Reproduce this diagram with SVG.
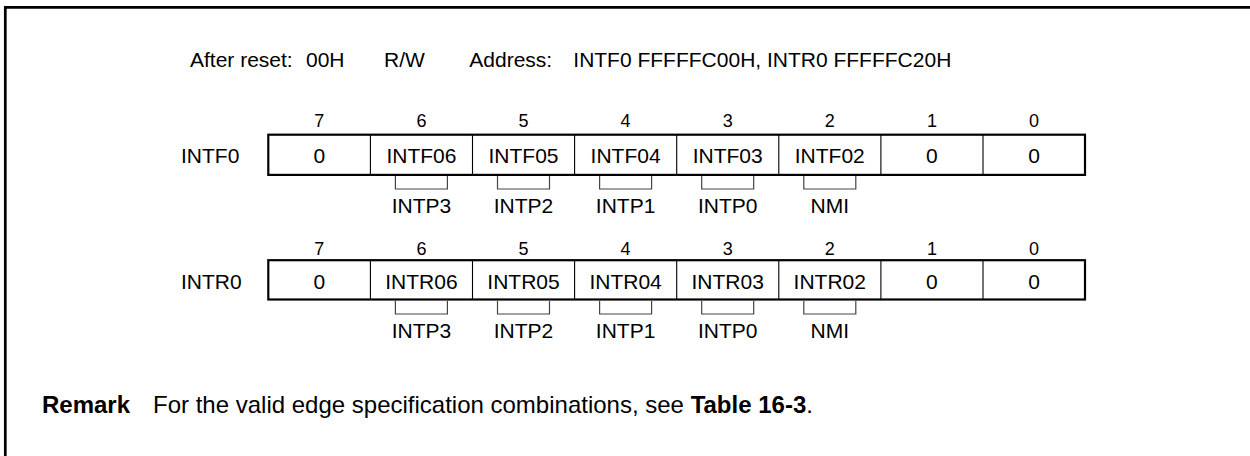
<svg xmlns="http://www.w3.org/2000/svg" width="1250" height="456" viewBox="0 0 1250 456">
<style>
text{font-family:"Liberation Sans",Arial,sans-serif;fill:#000}
.t{font-size:21px}
.r{font-size:24px}
.c{font-size:21px;text-anchor:middle}
.n{font-size:18px;text-anchor:middle}
.b{font-weight:bold}
.box{fill:none;stroke:#000;stroke-width:2.2}
.div{stroke:#000;stroke-width:1.1}
.br{fill:none;stroke:#444;stroke-width:1.2}
</style>
<rect x="0" y="0" width="1250" height="456" fill="#fff"/>
<path d="M5.3,456 V7.3 H1250" fill="none" stroke="#000" stroke-width="2.7"/>
<g id="header">
<text class="t" y="67"><tspan x="190">After reset:</tspan><tspan x="306">00H</tspan><tspan x="384">R/W</tspan><tspan x="469.3">Address:</tspan><tspan x="573.3">INTF0 FFFFFC00H, INTR0 FFFFFC20H</tspan></text>
</g>
<g id="reg-INTF0">
<text class="t" x="181" y="163.3">INTF0</text>
<text class="n" x="319.3" y="127">7</text><text class="n" x="421.4" y="127">6</text><text class="n" x="523.5" y="127">5</text><text class="n" x="625.6" y="127">4</text><text class="n" x="727.7" y="127">3</text><text class="n" x="829.8" y="127">2</text><text class="n" x="931.9" y="127">1</text><text class="n" x="1034" y="127">0</text>
<rect class="box" x="268.3" y="134.7" width="816.7" height="40.2"/>
<path class="div" d="M370.4,134.7V174.9M472.5,134.7V174.9M574.6,134.7V174.9M676.7,134.7V174.9M778.8,134.7V174.9M880.9,134.7V174.9M983,134.7V174.9"/>
<text class="c" x="319.3" y="163.3">0</text><text class="c" x="421.4" y="163.3">INTF06</text><text class="c" x="523.5" y="163.3">INTF05</text><text class="c" x="625.6" y="163.3">INTF04</text><text class="c" x="727.7" y="163.3">INTF03</text><text class="c" x="829.8" y="163.3">INTF02</text><text class="c" x="931.9" y="163.3">0</text><text class="c" x="1034" y="163.3">0</text>
</g>
<g id="reg-INTR0">
<text class="t" x="181" y="289.3">INTR0</text>
<text class="n" x="319.3" y="255">7</text><text class="n" x="421.4" y="255">6</text><text class="n" x="523.5" y="255">5</text><text class="n" x="625.6" y="255">4</text><text class="n" x="727.7" y="255">3</text><text class="n" x="829.8" y="255">2</text><text class="n" x="931.9" y="255">1</text><text class="n" x="1034" y="255">0</text>
<rect class="box" x="268.3" y="260.2" width="816.7" height="39.3"/>
<path class="div" d="M370.4,260.2V299.5M472.5,260.2V299.5M574.6,260.2V299.5M676.7,260.2V299.5M778.8,260.2V299.5M880.9,260.2V299.5M983,260.2V299.5"/>
<text class="c" x="319.3" y="289.3">0</text><text class="c" x="421.4" y="289.3">INTR06</text><text class="c" x="523.5" y="289.3">INTR05</text><text class="c" x="625.6" y="289.3">INTR04</text><text class="c" x="727.7" y="289.3">INTR03</text><text class="c" x="829.8" y="289.3">INTR02</text><text class="c" x="931.9" y="289.3">0</text><text class="c" x="1034" y="289.3">0</text>
</g>
<g id="connectors">
<path class="br" d="M395.4,176V189H447.4V176M497.5,176V189H549.5V176M599.6,176V189H651.6V176M701.7,176V189H753.7V176M803.8,176V189H855.8V176"/>
<path class="br" d="M395.4,301V314H447.4V301M497.5,301V314H549.5V301M599.6,301V314H651.6V301M701.7,301V314H753.7V301M803.8,301V314H855.8V301"/>
</g>
<g id="labels-INTF0">
<text class="c" x="421.4" y="213">INTP3</text><text class="c" x="523.5" y="213">INTP2</text><text class="c" x="625.6" y="213">INTP1</text><text class="c" x="727.7" y="213">INTP0</text><text class="c" x="829.8" y="213">NMI</text>
</g>
<g id="labels-INTR0">
<text class="c" x="421.4" y="338">INTP3</text><text class="c" x="523.5" y="338">INTP2</text><text class="c" x="625.6" y="338">INTP1</text><text class="c" x="727.7" y="338">INTP0</text><text class="c" x="829.8" y="338">NMI</text>
</g>
<g id="remark">
<text class="r" y="413"><tspan class="b" x="42">Remark</tspan><tspan x="153">For the valid edge specification combinations, see </tspan><tspan class="b">Table 16-3</tspan><tspan>.</tspan></text>
</g>
</svg>
